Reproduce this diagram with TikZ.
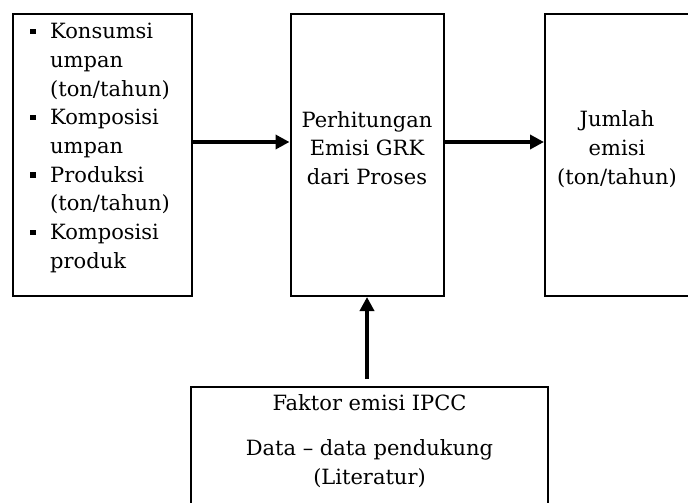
\documentclass[tikz,border=0pt]{standalone}
\usepackage{fontspec}
\setmainfont{DejaVu Serif}
\usetikzlibrary{arrows.meta}
\newcommand{\bulx}{\makebox[20pt][l]{\raisebox{4.5pt}{\rule{5.5pt}{5.5pt}}}}
\begin{document}
\begin{tikzpicture}[x=1pt,y=-1pt,
  box/.style={draw=black, line width=2pt, inner sep=0pt},
  txt/.style={font=\fontsize{21}{28.7}\selectfont, inner sep=0pt},
  arr/.style={line width=3.8pt, -{Triangle[length=14pt,width=14pt]}}]
\clip (0,0) rectangle (688,503);
\fill[white] (0,0) rectangle (688,503);
% boxes
\node[box, minimum width=179pt, minimum height=282pt] (L) at (102.5,155) {};
\node[box, minimum width=153pt, minimum height=282pt] (M) at (367,155) {};
\node[box, minimum width=146pt, minimum height=282pt] (R) at (618,155) {};
\node[box, minimum width=357pt, minimum height=140pt] (B) at (369.5,457) {};
% texts
\node[txt, align=left] (Lt) at (100,148) {\bulx Konsumsi\\\hspace*{20pt}umpan\\\hspace*{20pt}(ton/tahun)\\\bulx Komposisi\\\hspace*{20pt}umpan\\\bulx Produksi\\\hspace*{20pt}(ton/tahun)\\\bulx Komposisi\\\hspace*{20pt}produk};
\node[txt, align=center] (Mt) at (367,148) {Perhitungan\\Emisi GRK\\dari Proses};
\node[txt, align=center] (Rt) at (617,149) {Jumlah\\emisi\\(ton/tahun)};
\node[txt, align=center] (Bt) at (369.5,441) {Faktor emisi IPCC\\[16pt]Data – data pendukung\\(Literatur)};
% connectors
\draw[arr] ([yshift=13pt]L.east) -- ([yshift=13pt]M.west);
\draw[arr] ([yshift=13pt]M.east) -- ([yshift=13pt]R.west);
\draw[arr, shorten <=7pt] (M.south |- B.north) -- (M.south);
\end{tikzpicture}
\end{document}
